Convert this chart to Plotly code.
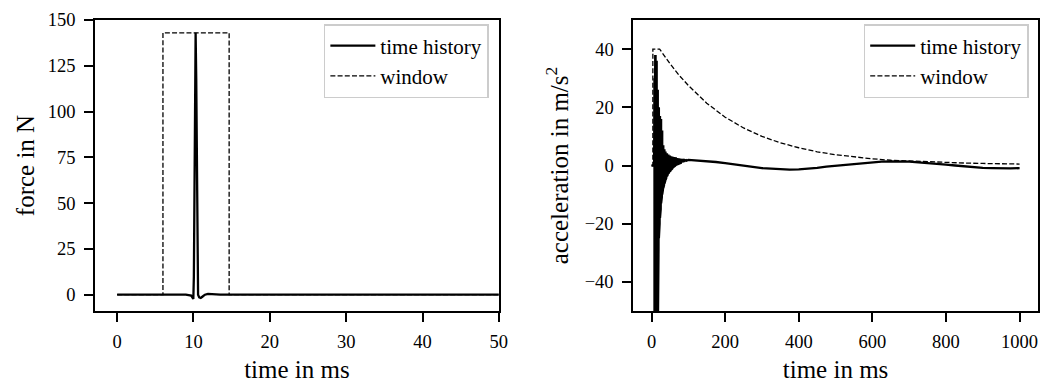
import plotly.graph_objects as go

# ---------------- left panel: force ----------------
force_t = [0, 9.0, 9.7, 9.9, 9.98, 10.05, 10.12, 10.2, 10.28, 10.36, 10.44, 10.52, 10.6,
           10.75, 10.95, 11.2, 11.5, 11.9, 12.3, 12.8, 13.5, 50]
force_v = [0, 0, -0.5, -1.8, -2.3, 10, 60, 120, 143, 118, 60, 15, 0,
           -1.5, -1.8, -1.0, 0, 0.5, 0.4, 0, 0, 0]

fwin_t = [0, 6.0, 6.0, 14.67, 14.67, 50]
fwin_v = [0, 0, 143, 143, 0, 0]

# ---------------- right panel: acceleration ----------------
acc_pre_t = [0, 7]
acc_pre_v = [0, 0]

burst_t = [8, 9, 10, 11, 12, 13, 14, 15, 16, 17, 18, 19, 20, 21, 22, 23, 24, 25, 26, 27,
           28, 29, 30, 31, 32, 33, 34, 35, 36, 37, 38, 39, 40, 42, 44, 46, 48, 50, 52, 54,
           56, 58, 60, 62, 64, 66, 68, 70, 72, 74, 76, 78, 80, 84, 88, 92, 96]
burst_up = [30, 36, 38, 38, 38, 38, 36, 32, 28, 26, 24, 22, 20, 18, 17, 17, 17, 16, 16, 15,
            14, 12, 10, 8, 7, 6.5, 6, 5.6, 5.3, 5, 4.8, 4.6, 4.4, 4.2, 4, 3.8, 3.6, 3.4, 3.3, 3.2,
            3.1, 3.0, 3.0, 2.9, 2.8, 2.8, 2.7, 2.6, 2.6, 2.5, 2.5, 2.4, 2.4, 2.3, 2.2, 2.1, 2.0]
burst_lo = [-65, -65, -65, -65, -65, -65, -65, -65, -65, -60, -40, -29, -25, -22, -20, -18, -16, -15, -13, -12,
            -11, -10, -9, -8.4, -7.8, -7.2, -6.7, -6.2, -5.8, -5.4, -5, -4.6, -4.3, -3.7, -3.2, -2.7, -2.3, -2, -1.7, -1.4,
            -1.1, -0.8, -0.5, -0.3, -0.1, 0.1, 0.3, 0.4, 0.5, 0.6, 0.7, 0.8, 0.9, 1.1, 1.3, 1.5, 1.7]

slow_t = [100, 125, 150, 175, 200, 225, 250, 275, 300, 325, 350, 375, 400, 425, 450, 475,
          500, 525, 550, 575, 600, 625, 650, 675, 700, 725, 750, 775, 800, 825, 850, 875,
          900, 925, 950, 975, 1000]
slow_v = [1.9, 1.7, 1.5, 1.2, 0.8, 0.3, -0.1, -0.5, -0.9, -1.1, -1.3, -1.4, -1.3, -1.1, -0.8, -0.4,
          -0.1, 0.3, 0.6, 0.9, 1.1, 1.3, 1.4, 1.4, 1.3, 1.1, 0.9, 0.6, 0.3, 0.0, -0.3, -0.6,
          -0.8, -0.9, -1.0, -1.0, -0.9]

awin_t = [0, 3.6, 3.6, 22, 50, 75, 100, 150, 200, 250, 300, 350, 400, 450, 500, 550, 600,
          650, 700, 750, 800, 850, 900, 950, 1000]
awin_v = [0, 0, 40, 40, 35.0, 31.0, 27.5, 21.4, 16.6, 12.9, 10.0, 7.8, 6.1, 4.7, 3.7, 2.9, 2.3,
          1.8, 1.5, 1.2, 1.0, 0.85, 0.7, 0.6, 0.5]

# zig-zag through the burst: vertical stroke at each listed time from upper to lower value
acc_t = list(acc_pre_t)
acc_v = list(acc_pre_v)
for t, u, l in zip(burst_t, burst_up, burst_lo):
    acc_t += [t, t]
    acc_v += [u, l]
acc_t += slow_t
acc_v += slow_v

FONT = "Liberation Serif"
TICK = 18.5
LABEL = 25
LEG = 21

fig = go.Figure()
fig.add_trace(go.Scatter(x=force_t, y=force_v, mode="lines", name="time history",
                         line=dict(color="black", width=2.3), xaxis="x", yaxis="y", legend="legend"))
fig.add_trace(go.Scatter(x=fwin_t, y=fwin_v, mode="lines", name="window",
                         line=dict(color="black", width=1.3, dash="5px,2.2px"),
                         xaxis="x", yaxis="y", legend="legend"))
fig.add_trace(go.Scatter(x=acc_t, y=acc_v, mode="lines", name="time history",
                         line=dict(color="black", width=2.3), xaxis="x2", yaxis="y2", legend="legend2"))
fig.add_trace(go.Scatter(x=awin_t, y=awin_v, mode="lines", name="window",
                         line=dict(color="black", width=1.3, dash="5px,2.2px"),
                         xaxis="x2", yaxis="y2", legend="legend2"))

axis_common = dict(showgrid=False, zeroline=False, showline=True, linecolor="black", linewidth=1.6,
                   mirror=True, ticks="outside", ticklen=9, tickwidth=1.5, tickcolor="black",
                   automargin=False,
                   tickfont=dict(family=FONT, size=TICK, color="black"))

L, R, T, B = 95, 20.7, 20, 72
W, H = 1059, 383
pw = W - L - R
ph = H - T - B

title_font = dict(family=FONT, size=LABEL, color="black")

fig.update_layout(
    width=W, height=H,
    margin=dict(l=L, r=R, t=T, b=B, autoexpand=False),
    paper_bgcolor="white", plot_bgcolor="white",
    font=dict(family=FONT, color="black"),
    xaxis=dict(domain=[0, (499 - L) / pw], range=[-2.9, 50], tickvals=[0, 10, 20, 30, 40, 50],
               ticklabelstandoff=4,
               title=dict(text="time in ms", font=title_font, standoff=10),
               anchor="y", **axis_common),
    yaxis=dict(domain=[0, 1], range=[-8.9, 150], tickvals=[0, 25, 50, 75, 100, 125, 150],
               ticklabelstandoff=5,
               title=dict(text="force in N", font=title_font, standoff=6),
               anchor="x", **axis_common),
    xaxis2=dict(domain=[(633.3 - L) / pw, 1], range=[-50, 1050], tickvals=[0, 200, 400, 600, 800, 1000],
                ticklabelstandoff=4,
                title=dict(text="time in ms", font=title_font, standoff=10),
                anchor="y2", **axis_common),
    yaxis2=dict(domain=[0, 1], range=[-50, 50], tickvals=[-40, -20, 0, 20, 40],
                ticklabelstandoff=5,
                title=dict(text="acceleration in m/s<sup>2</sup>", font=title_font, standoff=9),
                anchor="x2", **axis_common),
    legend=dict(x=(489 - L) / pw, y=1 - (24 - T) / ph, xanchor="right", yanchor="top",
                bgcolor="rgba(255,255,255,0.8)", bordercolor="#cccccc", borderwidth=1.5,
                itemwidth=45,
                font=dict(family=FONT, size=LEG, color="black")),
    legend2=dict(x=(1029 - L) / pw, y=1 - (24 - T) / ph, xanchor="right", yanchor="top",
                 bgcolor="rgba(255,255,255,0.8)", bordercolor="#cccccc", borderwidth=1.5,
                 itemwidth=45,
                 font=dict(family=FONT, size=LEG, color="black")),
    showlegend=True,
)

fig.write_html("out.html")
